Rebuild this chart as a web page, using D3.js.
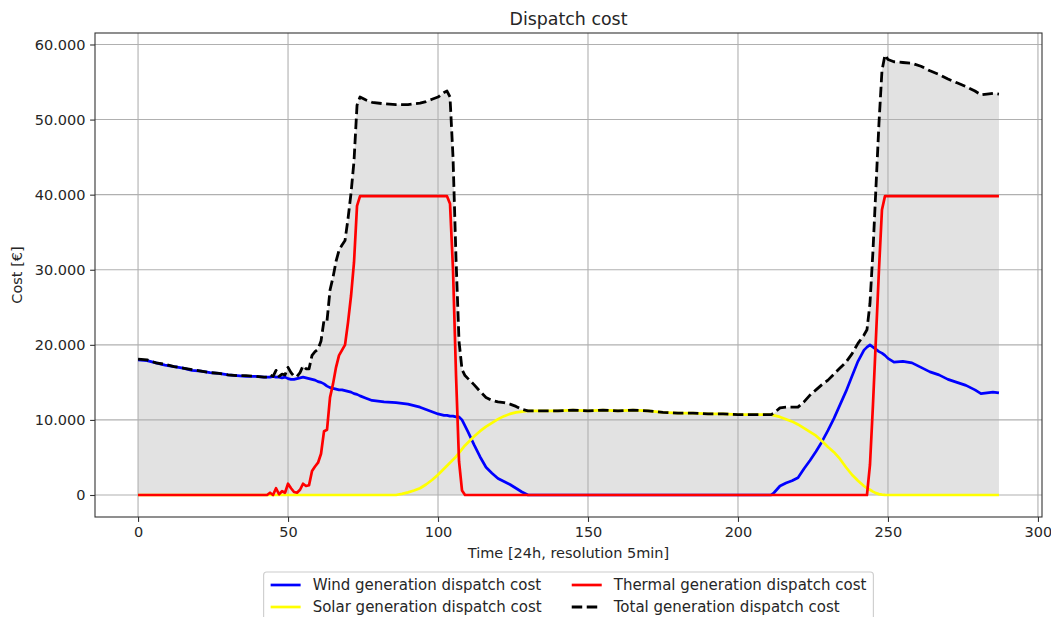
<!DOCTYPE html>
<html>
<head>
<meta charset="utf-8">
<script src="https://cdn.jsdelivr.net/npm/d3@7"></script>
<style>
  body { margin: 0; background: #ffffff; }
  svg { display: block; font-family: "DejaVu Sans", sans-serif; }
</style>
</head>
<body>
<svg id="chart" width="1051" height="617"></svg>
<script>
// Time step index (24h at 5-minute resolution)
const timeSteps = [
  0, 3, 6, 9, 12, 15, 18, 21, 24, 27, 30, 33, 36, 39, 42,
  43, 44, 45, 46, 47, 48, 49, 50, 51, 52, 53, 54, 55, 56, 57, 58, 59, 60, 61, 62, 63, 64, 65, 66, 67, 68, 69, 70, 71, 72, 73, 74,
  76, 78, 82, 86, 88, 90, 92, 94, 96, 98, 100, 102,
  103, 104, 105, 106, 107, 108, 109, 110,
  112, 114, 116, 118, 120, 122, 124, 126, 128, 130,
  135, 140, 145, 150, 155, 160, 165, 170, 175, 180, 185, 190, 195, 200, 205,
  209, 211, 212,
  214, 216, 218, 220, 222, 224, 226, 228, 230, 232, 234, 236, 238, 240, 242,
  243, 244, 245, 246, 247, 248, 249, 250,
  252, 255, 258, 261, 264, 267, 270, 273, 276, 279, 281, 283, 285, 287
];

// Dispatch cost per technology, in euro
const windCost = [
  18000, 17900, 17600, 17300, 17100, 16900, 16600, 16500, 16300, 16200, 16000, 15900, 15800, 15800, 15700,
  15700, 15700, 15800, 15700, 15700, 15600, 15700, 15500, 15400, 15400, 15500, 15600, 15700, 15600, 15500, 15400, 15300, 15100, 15000, 14800, 14500, 14300, 14200, 14100, 14000, 14000, 13900, 13800, 13700, 13500, 13400, 13200,
  12900, 12600, 12400, 12300, 12200, 12100, 11900, 11700, 11400, 11100, 10800, 10600,
  10600, 10500, 10500, 10400, 10400, 10000, 9200, 8400,
  6700, 5100, 3700, 2900, 2200, 1800, 1400, 900, 400, 0,
  0, 0, 0, 0, 0, 0, 0, 0, 0, 0, 0, 0, 0, 0, 0,
  0, 0, 300,
  1200, 1600, 1900, 2300, 3500, 4600, 5800, 7100, 8600, 10200, 12000, 13800, 15800, 17800, 19300,
  19700, 20000, 19700, 19400, 19100, 18900, 18600, 18200,
  17700, 17800, 17600, 17000, 16400, 16000, 15400, 15000, 14600, 14000, 13500, 13600, 13700, 13600
];

const solarCost = [
  0, 0, 0, 0, 0, 0, 0, 0, 0, 0, 0, 0, 0, 0, 0,
  0, 0, 0, 0, 0, 0, 0, 0, 0, 0, 0, 0, 0, 0, 0, 0, 0, 0, 0, 0, 0, 0, 0, 0, 0, 0, 0, 0, 0, 0, 0, 0,
  0, 0, 0, 0, 150, 350, 600, 900, 1400, 2000, 2700, 3500,
  3900, 4300, 4700, 5100, 5600, 6100, 6600, 7000,
  7800, 8500, 9100, 9600, 10100, 10500, 10800, 11000, 11100, 11200,
  11200, 11200, 11300, 11200, 11300, 11200, 11300, 11200, 11000, 10900, 10900, 10800, 10800, 10700, 10700,
  10700, 10700, 10600,
  10400, 10100, 9800, 9400, 8900, 8400, 7900, 7200, 6400, 5700, 4800, 3700, 2700, 1900, 1200,
  900, 700, 450, 250, 120, 50, 20, 0,
  0, 0, 0, 0, 0, 0, 0, 0, 0, 0, 0, 0, 0, 0
];

const thermalCost = [
  0, 0, 0, 0, 0, 0, 0, 0, 0, 0, 0, 0, 0, 0, 0,
  0, 300, 0, 900, 100, 500, 300, 1500, 900, 400, 300, 700, 1500, 1200, 1300, 3200, 3800, 4300, 5500, 8500, 8700, 13000, 14800, 17000, 18600, 19300, 20000, 23000, 26500, 31000, 38500, 39800,
  39800, 39800, 39800, 39800, 39800, 39800, 39800, 39800, 39800, 39800, 39800, 39800,
  39800, 38800, 30000, 16000, 4500, 600, 0, 0,
  0, 0, 0, 0, 0, 0, 0, 0, 0, 0,
  0, 0, 0, 0, 0, 0, 0, 0, 0, 0, 0, 0, 0, 0, 0,
  0, 0, 0,
  0, 0, 0, 0, 0, 0, 0, 0, 0, 0, 0, 0, 0, 0, 0,
  0, 4000, 12000, 21000, 30000, 38000, 39800, 39800,
  39800, 39800, 39800, 39800, 39800, 39800, 39800, 39800, 39800, 39800, 39800, 39800, 39800, 39800
];

const totalCost = [
  18100, 18000, 17600, 17400, 17100, 16900, 16700, 16500, 16300, 16200, 16000, 15900, 15900, 15800, 15700,
  15700, 16000, 15800, 16600, 15800, 16100, 16000, 17000, 16300, 15800, 15800, 16300, 17200, 16800, 16800, 18600, 19100, 19400, 20500, 23300, 23200, 27300, 29000, 31100, 32600, 33300, 33900, 36800, 40200, 44500, 51900, 53000,
  52600, 52300, 52100, 52000, 52000, 52000, 52100, 52200, 52400, 52700, 53000, 53600,
  53800, 53000, 45000, 31500, 20500, 16700, 15900, 15500,
  14700, 13800, 13000, 12600, 12400, 12300, 12100, 11800, 11400, 11200,
  11200, 11200, 11300, 11200, 11300, 11200, 11300, 11200, 11000, 10900, 10900, 10800, 10800, 10700, 10700,
  10700, 10700, 10900,
  11600, 11700, 11700, 11700, 12400, 13300, 14000, 14700, 15300, 16100, 16900, 17700, 18800, 20200, 21300,
  22000, 25500, 32500, 41000, 49500, 56500, 58600, 58000,
  57700, 57600, 57500, 57100, 56500, 56000, 55400, 54900, 54400, 53800, 53300, 53400, 53500, 53400
];

const xTicks = [0, 50, 100, 150, 200, 250, 300];
const yTicks = [0, 10000, 20000, 30000, 40000, 50000, 60000];

const seriesLabels = [
  "Wind generation dispatch cost",
  "Solar generation dispatch cost",
  "Thermal generation dispatch cost",
  "Total generation dispatch cost"
];
const seriesColors = ["#0000ff", "#ffff00", "#ff0000", "#000000"];

// ---- layout ----
const plot = { left: 95, right: 1042, top: 33, bottom: 517 };
const textColor = "#262626";
const fontSize = 14.5;
const legendFont = 15;
const solidWidth = 2.7, dashWidth = 2.8, dashPattern = "10.5,4.5";

const svg = d3.select("#chart");

// axis limits padded by 5% of the data span on each side
const xMin = d3.min(timeSteps), xMax = d3.max(timeSteps);
const xPad = (xMax - xMin) * 0.05;
const yMin = 0, yMax = d3.max(totalCost);
const yPad = (yMax - yMin) * 0.05;

const x = d3.scaleLinear().domain([xMin - xPad, xMax + xPad]).range([plot.left, plot.right]);
const y = d3.scaleLinear().domain([yMin - yPad, yMax + yPad]).range([plot.bottom, plot.top]);

const euro = d3.formatLocale({ decimal: ",", thousands: ".", grouping: [3], currency: ["", "€"] });
const fmt = euro.format(",");

const rows = timeSteps.map((t, i) => ({
  t, wind: windCost[i], solar: solarCost[i], thermal: thermalCost[i], total: totalCost[i]
}));

const clipId = "plotClip";
svg.append("defs").append("clipPath").attr("id", clipId)
  .append("rect")
  .attr("x", plot.left).attr("y", plot.top)
  .attr("width", plot.right - plot.left).attr("height", plot.bottom - plot.top);

// shaded area under the total cost
svg.append("path")
  .datum(rows)
  .attr("fill", "#e2e2e2")
  .attr("d", d3.area().x(d => x(d.t)).y0(y(0)).y1(d => y(d.total)));

// grid lines
const gridG = svg.append("g");
gridG.selectAll("line.vx").data(xTicks).join("line")
  .attr("x1", d => x(d)).attr("x2", d => x(d))
  .attr("y1", plot.top).attr("y2", plot.bottom)
  .attr("stroke", "#b0b0b0").attr("stroke-width", 1.1);
gridG.selectAll("line.hy").data(yTicks).join("line")
  .attr("x1", plot.left).attr("x2", plot.right)
  .attr("y1", d => y(d)).attr("y2", d => y(d))
  .attr("stroke", "#b0b0b0").attr("stroke-width", 1.1);

// cost lines
const lineG = svg.append("g").attr("clip-path", `url(#${clipId})`);
const keys = ["wind", "solar", "thermal", "total"];
keys.forEach((k, i) => {
  const p = lineG.append("path")
    .datum(rows)
    .attr("fill", "none")
    .attr("stroke", seriesColors[i])
    .attr("stroke-width", k === "total" ? dashWidth : solidWidth)
    .attr("stroke-linejoin", "round")
    .attr("d", d3.line().x(d => x(d.t)).y(d => y(d[k])));
  if (k === "total") p.attr("stroke-dasharray", dashPattern);
});

// axes
const xAxis = d3.axisBottom(x).tickValues(xTicks).tickSize(4.9).tickPadding(4.6).tickFormat(d3.format("d"));
const yAxis = d3.axisLeft(y).tickValues(yTicks).tickSize(4.9).tickPadding(4.6).tickFormat(fmt);

const gx = svg.append("g").attr("transform", `translate(0,${plot.bottom})`).call(xAxis);
const gy = svg.append("g").attr("transform", `translate(${plot.left},0)`).call(yAxis);
[gx, gy].forEach(g => {
  g.select(".domain").remove();
  g.selectAll(".tick line").attr("stroke", "#333").attr("stroke-width", 1.1);
  g.selectAll(".tick text").attr("fill", textColor).style("font-size", fontSize + "px")
    .style("font-family", "'DejaVu Sans', sans-serif");
});

// frame
svg.append("rect")
  .attr("x", plot.left).attr("y", plot.top)
  .attr("width", plot.right - plot.left).attr("height", plot.bottom - plot.top)
  .attr("fill", "none").attr("stroke", "#333").attr("stroke-width", 1.1);

const cx = (plot.left + plot.right) / 2;

// title and axis labels
svg.append("text").attr("x", cx).attr("y", 25)
  .attr("text-anchor", "middle").attr("fill", textColor)
  .style("font-size", "17.4px").text("Dispatch cost");

svg.append("text").attr("x", cx).attr("y", 558)
  .attr("text-anchor", "middle").attr("fill", textColor)
  .style("font-size", fontSize + "px").text("Time [24h, resolution 5min]");

svg.append("text")
  .attr("transform", `translate(22,${(plot.top + plot.bottom) / 2}) rotate(-90)`)
  .attr("text-anchor", "middle").attr("fill", textColor)
  .style("font-size", fontSize + "px").text("Cost [€]");

// legend: two columns, centred under the axes
const leg = svg.append("g");
const legBox = leg.append("rect");
const handleLen = 30, handlePad = 12, colGap = 30, pad = 7;
const rowY = [585, 607];
const columns = [[0, 1], [2, 3]];
let cursor = 0;
const colItems = [];
columns.forEach(col => {
  const texts = col.map(i => leg.append("text")
    .attr("fill", textColor).style("font-size", legendFont + "px")
    .attr("dy", "0.35em").text(seriesLabels[i]));
  const wText = d3.max(texts, t => t.node().getComputedTextLength());
  colItems.push({ col, texts, start: cursor });
  cursor += handleLen + handlePad + wText + colGap;
});
const innerW = cursor - colGap;
const boxW = innerW + 2 * pad;
const boxX = cx - boxW / 2;
legBox.attr("x", boxX).attr("y", 572).attr("width", boxW).attr("height", 49)
  .attr("rx", 3).attr("fill", "#ffffff").attr("fill-opacity", 0.8)
  .attr("stroke", "#cccccc").attr("stroke-width", 1.1);
colItems.forEach(ci => {
  const x0 = boxX + pad + ci.start;
  ci.col.forEach((i, r) => {
    const ln = leg.append("line")
      .attr("x1", x0).attr("x2", x0 + handleLen)
      .attr("y1", rowY[r]).attr("y2", rowY[r])
      .attr("stroke", seriesColors[i])
      .attr("stroke-width", i === 3 ? dashWidth : solidWidth);
    if (i === 3) ln.attr("stroke-dasharray", dashPattern);
    ci.texts[r].attr("x", x0 + handleLen + handlePad).attr("y", rowY[r]);
  });
});
</script>
</body>
</html>
